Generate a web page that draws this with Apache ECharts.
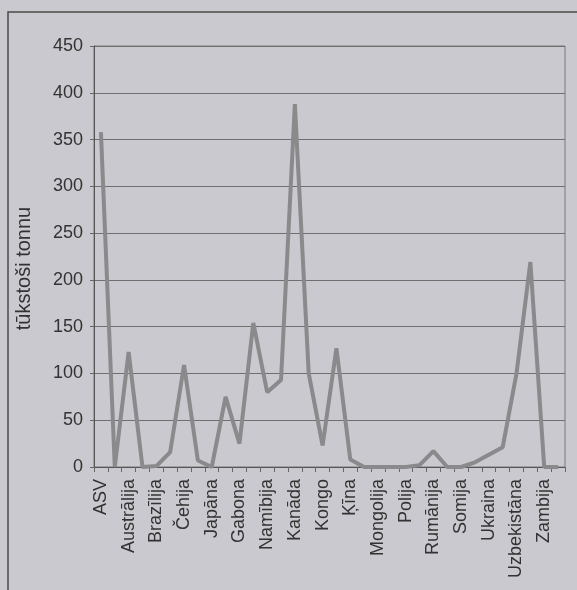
<!DOCTYPE html>
<html>
<head>
<meta charset="utf-8">
<script src="https://cdn.jsdelivr.net/npm/echarts@6/dist/echarts.min.js"></script>
<style>
html,body{margin:0;padding:0;background:#c9c9cf;}
#chart{width:577px;height:590px;}
</style>
</head>
<body>
<div id="chart"></div>
<script>
const categories = ['ASV','Argentīna','Austrālija','Beļģija','Brazīlija','Bulgārija','Čehija','Francija','Japāna','Indija','Gabona','Kazahstāna','Namībija','Nigēra','Kanāda','Vācija','Kongo','Pakistāna','Ķīna','Madagaskara','Mongolija','Portugāle','Polija','Spānija','Rumānija','Slovēnija','Somija','Šveice','Ukraina','Ungārija','Uzbekistāna','Zviedrija','Zambija','Zimbabve'];
const values = [358,0,123,0,1,16,109,7,0,75,25,154,80,93,388,100,23,127,8,0,0,0,0,2,17,0,0,5,13,21,100,219,0,0];
const yTicks = {min:0, max:450, interval:50};
const yName = 'tūkstoši tonnu';

const chart = echarts.init(document.getElementById('chart'), null, {renderer:'canvas'});
const font = 'Liberation Sans, Arial, sans-serif';
chart.setOption({
  backgroundColor:'#c9c9cf',
  animation:false,
  graphic:[{type:'rect', shape:{x:8,y:12,width:620,height:620}, style:{fill:'none', stroke:'#4a4a4a', lineWidth:1.5}}],
  grid:{left:94,right:12,top:46,bottom:123,show:true,borderColor:'#7a7a7a',borderWidth:1,backgroundColor:'transparent'},
  xAxis:{
    type:'category', data:categories, boundaryGap:true,
    axisLine:{lineStyle:{color:'#555',width:1}},
    axisTick:{show:true,interval:0,length:5,lineStyle:{color:'#666'}},
    axisLabel:{interval:1,rotate:90,fontSize:18,fontFamily:font,color:'#333',margin:12}
  },
  yAxis:{
    type:'value', min:yTicks.min, max:yTicks.max, interval:yTicks.interval,
    name:yName, nameLocation:'middle', nameGap:60, nameRotate:90,
    nameTextStyle:{fontSize:20,fontFamily:font,color:'#333',padding:[0,24,0,0]},
    axisLine:{show:true,lineStyle:{color:'#555',width:1}},
    axisTick:{show:true,length:4,lineStyle:{color:'#666'}},
    axisLabel:{fontSize:18,fontFamily:font,color:'#333',margin:11},
    splitLine:{lineStyle:{color:'#6f6f6f',width:1}}
  },
  series:[{type:'line', data:values, symbol:'none', lineStyle:{color:'#8a8a8c',width:4}, itemStyle:{color:'#8a8a8c'}}]
});
</script>
</body>
</html>
